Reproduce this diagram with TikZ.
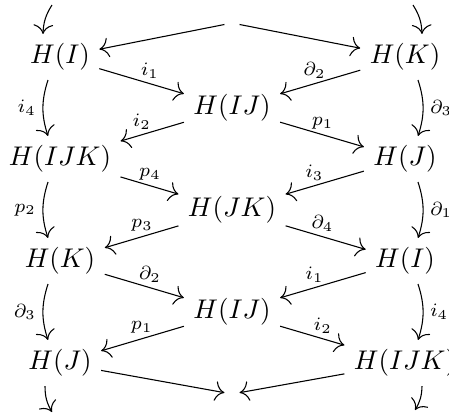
\documentclass[tikz,border=0pt]{standalone}
\usetikzlibrary{calc,arrows.meta}

\tikzset{
  >={To[scale=1.4]},
  obj/.style={inner sep=3.33pt},
  void/.style={inner sep=2.6pt},
  lab/.style={font=\scriptsize, inner sep=1.3pt},
  labR/.style={lab, above, xshift=1.5pt},
  labL/.style={lab, above, xshift=-1.5pt},
  side/.style={font=\scriptsize, inner sep=2.4pt},
}

\begin{document}
\begin{tikzpicture}[x=0.3704pt, y=0.3704pt]
  \useasboundingbox (0,0) rectangle (449,413);

  % columns at x = 60, 232, 405
  \node[void] (top) at (232,390) {};
  \node[void] (bot) at (232,19) {};

  \node[obj] (hI)    at (60,356)  {$H(I)$};
  \node[obj] (hKb)   at (405,356) {$H(K)$};
  \node[obj] (hIJa)  at (232,305) {$H(IJ)$};
  \node[obj] (hIJKa) at (60,254)  {$H(IJK)$};
  \node[obj] (hJb)   at (405,254) {$H(J)$};
  \node[obj] (hJK)   at (232,203) {$H(JK)$};
  \node[obj] (hKa)   at (60,152)  {$H(K)$};
  \node[obj] (hIb)   at (405,152) {$H(I)$};
  \node[obj] (hIJb)  at (232,101) {$H(IJ)$};
  \node[obj] (hJa)   at (60,50)   {$H(J)$};
  \node[obj] (hIJKb) at (405,50)  {$H(IJK)$};

  % loose ends
  \coordinate (tl) at (52,408);
  \coordinate (tr) at (413,408);
  \coordinate (bl) at (52,1);
  \coordinate (br) at (415,3);

  % top and bottom
  \draw[->] (top) -- (hI);
  \draw[->] (top) -- (hKb);
  \draw[->] (hJa) -- (bot);
  \draw[->] (hIJKb) -- (bot);
  \draw[->] (tl) to[bend right=15] ($(hI.north)+(-17,0)$);
  \draw[->] (tr) to[bend left=15] ($(hKb.north)+(17,0)$);
  \draw[->] ($(hJa.south)+(-15,0)$) to[bend right=15] (bl);
  \draw[->] ($(hIJKb.south)+(17,0)$) to[bend left=15] (br);

  % zig-zag
  \draw[->] (hI) -- node[labR, pos=0.55] {$i_1$} (hIJa);
  \draw[->] (hKb) -- node[labL, pos=0.52] {$\partial_2$} (hIJa);
  \draw[->] (hIJa) -- node[labL, pos=0.6] {$i_2$} (hIJKa);
  \draw[->] (hIJa) -- node[labR, pos=0.46] {$p_1$} (hJb);
  \draw[->] (hIJKa) -- node[labR, pos=0.44] {$p_4$} (hJK);
  \draw[->] (hJb) -- node[labL, pos=0.58] {$i_3$} (hJK);
  \draw[->] (hJK) -- node[labL, pos=0.44] {$p_3$} (hKa);
  \draw[->] (hJK) -- node[labR, pos=0.41] {$\partial_4$} (hIb);
  \draw[->] (hKa) -- node[labR, pos=0.52] {$\partial_2$} (hIJb);
  \draw[->] (hIb) -- node[labL, pos=0.55] {$i_1$} (hIJb);
  \draw[->] (hIJb) -- node[labL, pos=0.46] {$p_1$} (hJa);
  \draw[->] (hIJb) -- node[labR, pos=0.6] {$i_2$} (hIJKb);

  % sides
  \draw[->] ($(hI.south)+(-12,0)$) to[bend right=18] node[side, left] {$i_4$} ($(hIJKa.north)+(-12,0)$);
  \draw[->] ($(hIJKa.south)+(-12,0)$) to[bend right=18] node[side, left] {$p_2$} ($(hKa.north)+(-12,0)$);
  \draw[->] ($(hKa.south)+(-12,0)$) to[bend right=18] node[side, left] {$\partial_3$} ($(hJa.north)+(-12,0)$);
  \draw[->] ($(hKb.south)+(13,0)$) to[bend left=18] node[side, right] {$\partial_3$} ($(hJb.north)+(13,0)$);
  \draw[->] ($(hJb.south)+(13,0)$) to[bend left=18] node[side, right] {$\partial_1$} ($(hIb.north)+(13,0)$);
  \draw[->] ($(hIb.south)+(13,0)$) to[bend left=18] node[side, right] {$i_4$} ($(hIJKb.north)+(13,0)$);
\end{tikzpicture}
\end{document}
